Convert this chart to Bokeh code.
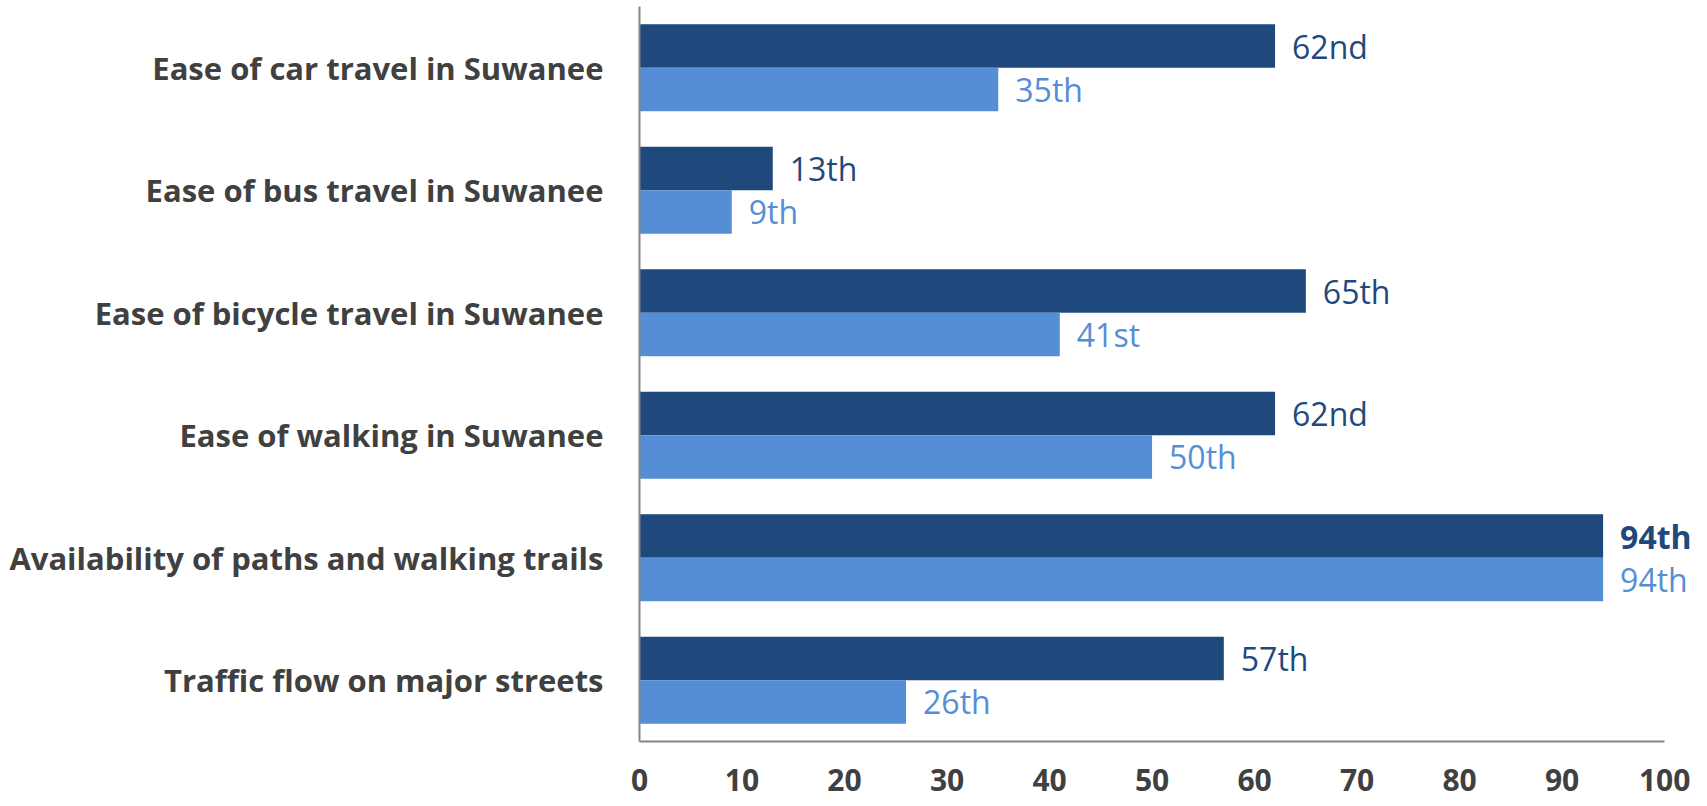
from bokeh.plotting import figure
from bokeh.models import ColumnDataSource, FactorRange, Range1d, FixedTicker, LabelSet
from bokeh.transform import dodge
from bokeh.core.properties import value
from bokeh.embed import file_html
from bokeh.resources import INLINE

categories = [
    "Ease of car travel in Suwanee",
    "Ease of bus travel in Suwanee",
    "Ease of bicycle travel in Suwanee",
    "Ease of walking in Suwanee",
    "Availability of paths and walking trails",
    "Traffic flow on major streets",
]
series_a = [62, 13, 65, 62, 94, 57]
labels_a = ["62nd", "13th", "65th", "62nd", "94th", "57th"]
styles_a = ["normal", "normal", "normal", "normal", "bold", "normal"]
series_b = [35, 9, 41, 50, 94, 26]
labels_b = ["35th", "9th", "41st", "50th", "94th", "26th"]
styles_b = ["normal"] * 6
x_ticks = [0, 10, 20, 30, 40, 50, 60, 70, 80, 90, 100]

DARK = "#1F497D"
LIGHT = "#558ED5"
FONT = "Open Sans"

src = ColumnDataSource(dict(cat=categories, a=series_a, b=series_b,
                            la=labels_a, lb=labels_b, sa=styles_a, sb=styles_b))

p = figure(width=1700, height=804, output_backend="svg", toolbar_location=None,
           y_range=FactorRange(factors=list(reversed(categories))),
           x_range=Range1d(0, 103.5),
           min_border_left=639, min_border_right=0, min_border_top=6, min_border_bottom=63)

bh = 0.355
p.hbar(y=dodge("cat", bh / 2, range=p.y_range), right="a", left=0, height=bh,
       source=src, fill_color=DARK, line_color=None)
p.hbar(y=dodge("cat", -bh / 2, range=p.y_range), right="b", left=0, height=bh,
       source=src, fill_color=LIGHT, line_color=None)

la = LabelSet(x="a", y=dodge("cat", bh / 2, range=p.y_range), text="la", source=src,
              x_offset=17, text_baseline="middle", text_align="left",
              text_font=value(FONT), text_font_size=value("32px"), text_color=value(DARK),
              text_font_style="sa")
lb = LabelSet(x="b", y=dodge("cat", -bh / 2, range=p.y_range), text="lb", source=src,
              x_offset=17, text_baseline="middle", text_align="left",
              text_font=value(FONT), text_font_size=value("32px"), text_color=value(LIGHT),
              text_font_style="sb")
p.add_layout(la)
p.add_layout(lb)

p.xgrid.visible = False
p.ygrid.visible = False
p.outline_line_color = None

p.xaxis.ticker = FixedTicker(ticks=x_ticks)
p.xaxis.bounds = (0, 100)
p.xaxis.major_tick_line_color = None
p.xaxis.minor_tick_line_color = None
p.xaxis.axis_line_color = "#868686"
p.xaxis.axis_line_width = 2
p.xaxis.major_label_text_font = FONT
p.xaxis.major_label_text_font_size = "30px"
p.xaxis.major_label_text_font_style = "bold"
p.xaxis.major_label_text_color = "#404040"
p.xaxis.major_label_standoff = 21

p.yaxis.major_tick_line_color = None
p.yaxis.minor_tick_line_color = None
p.yaxis.axis_line_color = "#868686"
p.yaxis.axis_line_width = 2
p.yaxis.major_label_text_font = FONT
p.yaxis.major_label_text_font_size = "31px"
p.yaxis.major_label_text_font_style = "bold"
p.yaxis.major_label_text_color = "#404040"
p.yaxis.major_label_standoff = 30

open("out.html", "w").write(file_html(p, INLINE))
